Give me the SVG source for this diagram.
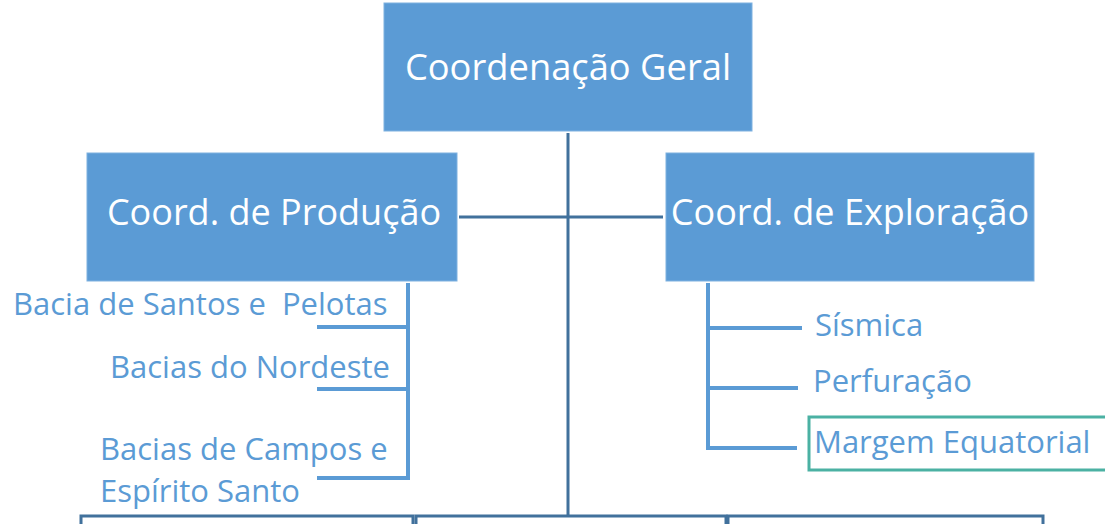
<svg xmlns="http://www.w3.org/2000/svg" width="1105" height="524" viewBox="0 0 1105 524">
<style>
.box{fill:#5b9bd5;stroke:#7eb1e0;stroke-width:1}
.bt{font-family:"Open Sans",Lato,"Liberation Sans",sans-serif;fill:#ffffff;text-anchor:middle}
.lbl{font-family:"Open Sans",Lato,"Liberation Sans",sans-serif;fill:#5b9bd5;font-size:31px}
.main{stroke:#41719c;stroke-width:3;fill:none}
.br{stroke:#5b9bd5;stroke-width:4;fill:none}
.low{fill:#ffffff;stroke:#41719c;stroke-width:3}
</style>
<rect width="1105" height="524" fill="#ffffff"/>
<g id="connectors">
<line class="main" x1="568" y1="133" x2="568" y2="524"/>
<line class="main" x1="459" y1="217" x2="663" y2="217"/>
<polyline class="br" points="317,327 408,327 408,283"/>
<line class="br" x1="317" y1="389" x2="408" y2="389"/>
<polyline class="br" points="408,327 408,478 317,478"/>
<polyline class="br" points="708,283 708,448 797,448"/>
<line class="br" x1="708" y1="328" x2="802" y2="328"/>
<line class="br" x1="708" y1="388" x2="798" y2="388"/>
</g>
<g id="n-geral">
<rect class="box" x="384" y="3" width="368" height="128"/>
<text class="bt" x="568" y="80" font-size="36.3">Coordenação Geral</text>
</g>
<g id="n-producao">
<rect class="box" x="87" y="153" width="370" height="128"/>
<text class="bt" x="274" y="225" font-size="36">Coord. de Produção</text>
</g>
<g id="n-exploracao">
<rect class="box" x="666" y="153" width="368" height="128"/>
<text class="bt" x="850" y="225" font-size="36">Coord. de Exploração</text>
</g>
<g id="n-santos"><text class="lbl" x="13" y="315" xml:space="preserve">Bacia de Santos e  Pelotas</text></g>
<g id="n-nordeste"><text class="lbl" x="110" y="378">Bacias do Nordeste</text></g>
<g id="n-campos"><text class="lbl" x="100" y="460">Bacias de Campos e</text><text class="lbl" x="100" y="502">Espírito Santo</text></g>
<g id="n-sismica"><text class="lbl" x="815" y="336">Sísmica</text></g>
<g id="n-perfuracao"><text class="lbl" x="813" y="392">Perfuração</text></g>
<g id="n-margem">
<rect x="809" y="417" width="300" height="53" fill="none" stroke="#4bb1a3" stroke-width="3"/>
<text class="lbl" x="814" y="453">Margem Equatorial</text>
</g>
<g id="n-bottom">
<rect class="low" x="81" y="516" width="332" height="20"/>
<rect class="low" x="416" y="516" width="310" height="20"/>
<rect class="low" x="728" y="516" width="315" height="20"/>
</g>
</svg>
